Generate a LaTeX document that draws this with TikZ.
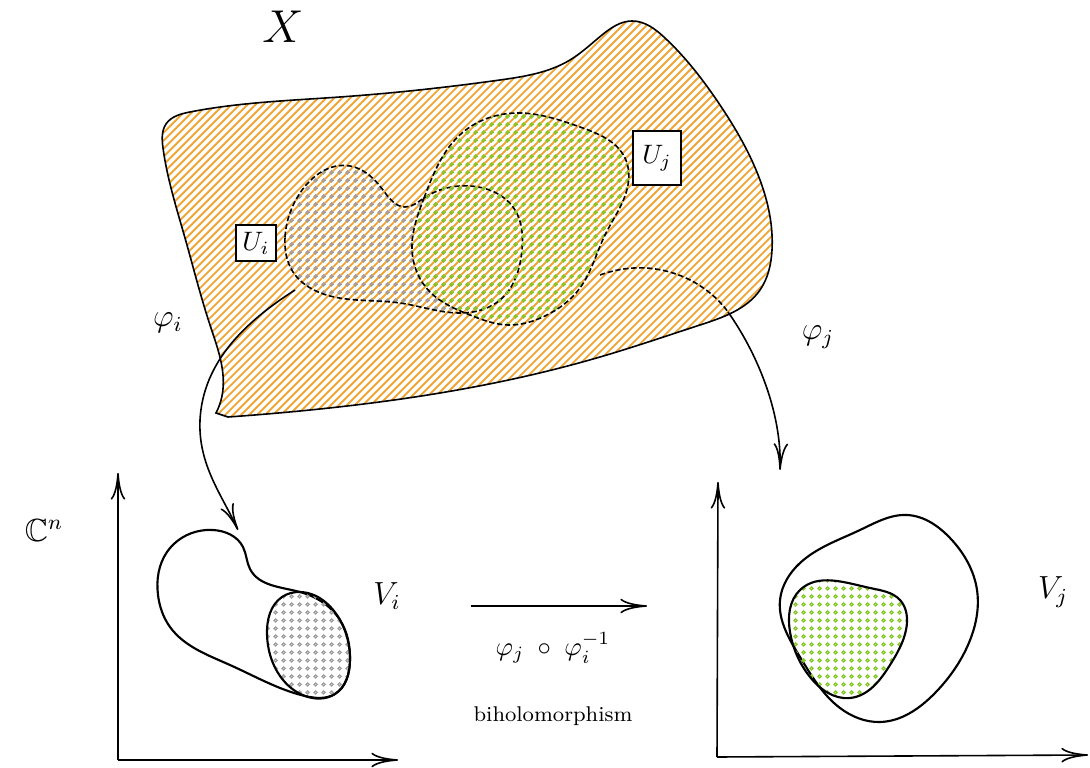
\documentclass[tikz,border=0pt]{standalone}
\usepackage{amssymb}
\usetikzlibrary{patterns,patterns.meta,arrows.meta,hobby}
\definecolor{xorange}{RGB}{240,165,50}
\definecolor{ugreen}{RGB}{135,200,40}
\definecolor{ugray}{RGB}{160,160,160}
\tikzdeclarepattern{name=rings, type=uncolored,
  bounding box={(0,0) and (3pt,3pt)}, tile size={(3pt,3pt)},
  code={\draw[line width=0.55pt] (1.5pt,1.5pt) circle (0.65pt);}}
\tikzset{
  ubox/.style={draw, fill=white, thick, inner sep=2.5pt},
  chart/.style={semithick, dash pattern=on 2pt off 1pt},
  blob/.style={thick},
}
\begin{document}
\begin{tikzpicture}[x=0.375pt, y=-0.375pt, use Hobby shortcut,
    >={Computer Modern Rightarrow[length=10pt,width=5.5pt]}]
    \useasboundingbox (0,0) rectangle (1090,768);
    \draw[semithick, pattern={Lines[angle=45,distance=2.12pt,line width=0.7pt]}, pattern color=xorange]
        (216,413) .. (222,396) .. (210,325) .. (185,238) .. (163,148) .. (166,124) .. (190,112) .. (340,97) .. (500,80) .. (570,60) .. (602,35) .. (632,21) .. (665,38) .. (720,105) .. (760,180) .. (772,250) .. (760,290) .. (700,325) .. (600,357) .. (440,393) .. (300,411) .. (228,417) -- cycle;
    \draw[chart, closed=true, pattern=rings, pattern color=ugray]
        (285,237) .. (300,193) .. (350,166) .. (383,190) .. (405,207) .. (424,198) .. (470,186) .. (515,210) .. (522,250) .. (500,300) .. (462,313) .. (400,303) .. (330,296) .. (293,272);
    \draw[chart, closed=true, pattern=rings, pattern color=ugreen]
        (424,198) .. (462,133) .. (517,113) .. (580,127) .. (625,158) .. (628,185) .. (605,235) .. (580,288) .. (545,316) .. (508,325) .. (470,315) .. (430,292) .. (412,250);
    \node[ubox] (uibox) at (256,243) {$U_i$};
    \node[ubox, minimum height=20pt, minimum width=18pt] (ujbox) at (657,158) {$U_j$};
    \node[font=\LARGE] (xlab) at (283,27) {$X$};

    \coordinate (phiistart) at (295,290);
    \coordinate (phiibend) at (200,420);
    \coordinate (phiiend) at (238,530);
    \draw[semithick] (phiistart) .. controls (245,322) and (203,362) .. (phiibend);
    \draw[semithick, ->] (phiibend) .. controls (198,465) and (222,495) .. (phiiend);
    \node[font=\large] (phiilab) at (168,323) {$\varphi_i$};

    \coordinate (phijstart) at (600,275);
    \coordinate (phijcross) at (728,312);
    \coordinate (phijend) at (780,470);
    \draw[chart] (phijstart) .. controls (655,255) and (705,280) .. (phijcross);
    \draw[semithick, ->] (phijcross) .. controls (755,350) and (782,410) .. (phijend);
    \node[font=\large] (phijlab) at (818,337) {$\varphi_j$};

    \coordinate (oi) at (118,760);
    \coordinate (oix) at (398,760);
    \coordinate (oiy) at (118,473);
    \draw[semithick, ->] (oi) -- (oiy);
    \draw[semithick, ->] (oi) -- (oix);
    \node[font=\large] (cn) at (44,530) {$\mathbb{C}^n$};
    \draw[blob, closed=true] (213,530) .. (243,547) .. (250,569) .. (300,592) .. (340,620) .. (350,660) .. (335,694) .. (305,696) .. (230,665) .. (170,627) .. (158,595) .. (167,552);
    \draw[blob, closed=true, pattern=rings, pattern color=ugray]
        (282,597) .. (300,592) .. (340,620) .. (350,660) .. (335,694) .. (305,696) .. (280,676) .. (267,635);
    \node[font=\large] (vilab) at (387,596) {$V_i$};

    \coordinate (oj) at (717,757);
    \coordinate (ojx) at (1088,755);
    \coordinate (ojy) at (718,482);
    \draw[semithick, ->] (oj) -- (ojy);
    \draw[semithick, ->] (oj) -- (ojx);
    \draw[blob, closed=true] (907,515) .. (950,538) .. (977,590) .. (968,645) .. (935,693) .. (880,722) .. (840,708) .. (800,657) .. (780,600) .. (800,563) .. (860,530);
    \draw[blob, closed=true, pattern=rings, pattern color=ugreen]
        (800,590) .. (870,588) .. (900,600) .. (906,630) .. (890,665) .. (850,698) .. (810,677) .. (790,632);
    \node[font=\large] (vjlab) at (1053,592) {$V_j$};

    \coordinate (bihstart) at (471,606);
    \coordinate (bihend) at (647,606);
    \draw[semithick, ->] (bihstart) -- (bihend);
    \node (comp) at (553,648) {$\varphi_j \;\circ\; \varphi_i^{-1}$};
    \node[font=\footnotesize] (bihlab) at (553,716) {biholomorphism};
\end{tikzpicture}
\end{document}
